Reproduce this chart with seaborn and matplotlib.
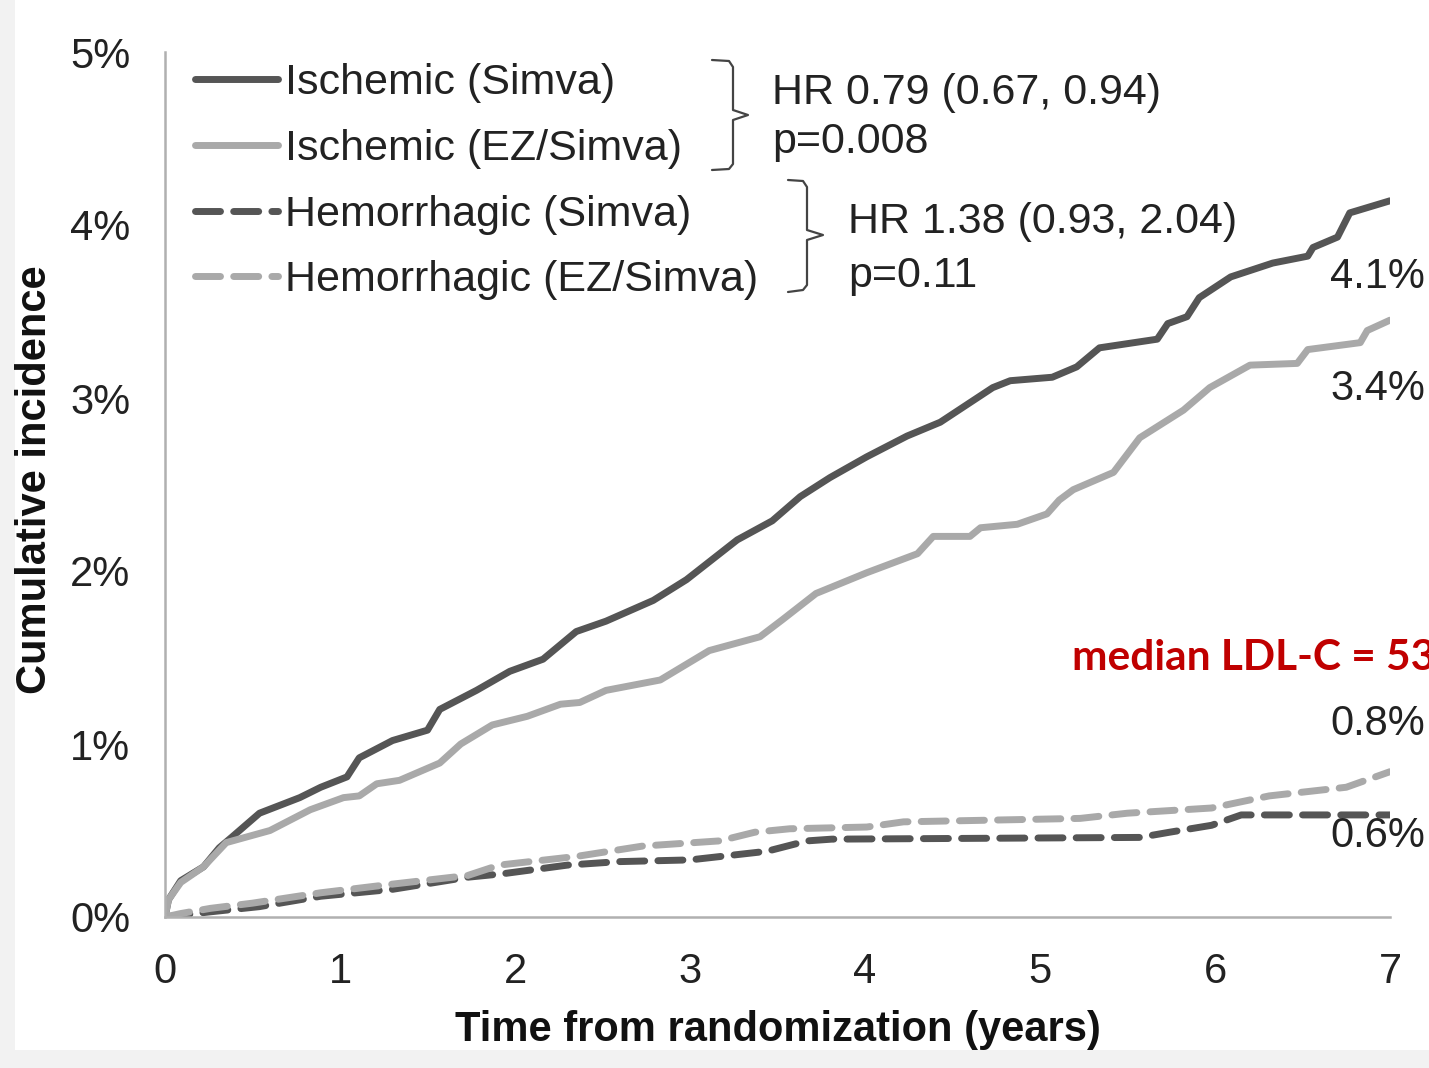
import matplotlib
matplotlib.use("Agg")
import matplotlib.pyplot as plt
import numpy as np
import pandas as pd
import seaborn as sns
from matplotlib.patches import Rectangle
from matplotlib.lines import Line2D

# ---------------- data ----------------
series_names = ["Ischemic (Simva)", "Ischemic (EZ/Simva)",
                "Hemorrhagic (Simva)", "Hemorrhagic (EZ/Simva)"]

isc_simva_t = [0, 0.02, 0.09, 0.22, 0.31, 0.38, 0.54, 0.77, 0.89, 1.04, 1.11, 1.30, 1.50,
               1.57, 1.78, 1.97, 2.16, 2.35, 2.52, 2.79, 2.98, 3.27, 3.47, 3.63, 3.80,
               4.01, 4.24, 4.43, 4.73, 4.83, 5.07, 5.21, 5.34, 5.67, 5.73, 5.84, 5.91,
               6.09, 6.33, 6.53, 6.56, 6.70, 6.77, 7.0]
isc_simva_v = [0, 0.10, 0.21, 0.29, 0.40, 0.46, 0.60, 0.69, 0.75, 0.81, 0.92, 1.02, 1.08,
               1.20, 1.31, 1.42, 1.49, 1.65, 1.71, 1.83, 1.95, 2.18, 2.29, 2.43, 2.54,
               2.66, 2.78, 2.86, 3.06, 3.10, 3.12, 3.18, 3.29, 3.34, 3.43, 3.47, 3.58,
               3.70, 3.78, 3.82, 3.87, 3.93, 4.07, 4.14]

isc_ez_t = [0, 0.02, 0.09, 0.22, 0.35, 0.60, 0.83, 1.02, 1.11, 1.21, 1.34, 1.57, 1.69,
            1.87, 2.07, 2.26, 2.37, 2.52, 2.83, 3.11, 3.40, 3.53, 3.72, 4.01, 4.30, 4.39,
            4.60, 4.66, 4.87, 5.04, 5.11, 5.19, 5.42, 5.57, 5.82, 5.97, 6.20, 6.47, 6.53,
            6.83, 6.87, 7.0]
isc_ez_v = [0, 0.10, 0.20, 0.29, 0.43, 0.50, 0.62, 0.69, 0.70, 0.77, 0.79, 0.89, 1.00,
            1.11, 1.16, 1.23, 1.24, 1.31, 1.37, 1.54, 1.62, 1.72, 1.87, 1.99, 2.10, 2.20,
            2.20, 2.25, 2.27, 2.33, 2.41, 2.47, 2.57, 2.77, 2.93, 3.06, 3.19, 3.20, 3.28,
            3.32, 3.39, 3.45]

hem_simva_t = [0, 0.26, 0.54, 0.89, 1.30, 1.73, 1.93, 2.30, 2.59, 3.00, 3.44, 3.67, 3.81,
               5.57, 5.74, 5.98, 6.15, 7.0]
hem_simva_v = [0, 0.03, 0.06, 0.12, 0.16, 0.23, 0.25, 0.30, 0.32, 0.33, 0.38, 0.44, 0.45,
               0.46, 0.49, 0.53, 0.59, 0.59]

hem_ez_t = [0, 0.09, 0.26, 0.50, 0.89, 1.30, 1.73, 1.91, 2.35, 2.73, 3.17, 3.37, 3.57,
            4.01, 4.22, 5.23, 5.50, 5.98, 6.31, 6.75, 7.0]
hem_ez_v = [0, 0.02, 0.05, 0.08, 0.14, 0.19, 0.24, 0.30, 0.35, 0.41, 0.44, 0.49, 0.51,
            0.52, 0.55, 0.57, 0.60, 0.63, 0.70, 0.75, 0.84]

x_ticks = [0, 1, 2, 3, 4, 5, 6, 7]
x_tick_labels = ["0", "1", "2", "3", "4", "5", "6", "7"]
y_ticks = [0, 1, 2, 3, 4, 5]
y_tick_labels = ["0%", "1%", "2%", "3%", "4%", "5%"]

end_labels = ["4.1%", "3.4%", "0.8%", "0.6%"]
hr_texts = ["HR 0.79 (0.67, 0.94)", "p=0.008", "HR 1.38 (0.93, 2.04)", "p=0.11"]
red_note = "median LDL-C = 53"
x_label = "Time from randomization (years)"
y_label = "Cumulative incidence"

# ---------------- build frame ----------------
frames = []
for name, t, v in zip(series_names,
                      [isc_simva_t, isc_ez_t, hem_simva_t, hem_ez_t],
                      [isc_simva_v, isc_ez_v, hem_simva_v, hem_ez_v]):
    frames.append(pd.DataFrame({"t": t, "v": v, "series": name}))
df = pd.concat(frames, ignore_index=True)

W, H = 1429, 1068
DARK = "#555555"
LIGHT = "#a9a9a9"

sns.set_style("white")
plt.rcParams["font.family"] = ["Liberation Sans", "DejaVu Sans"]

fig = plt.figure(figsize=(W / 100, H / 100), dpi=100, facecolor="#f2f2f2")
fig.add_artist(Rectangle((15 / W, 18 / H), 1, 1, transform=fig.transFigure,
                         facecolor="white", edgecolor="none", zorder=-10))


def px(x, y):
    return (x / W, 1 - y / H)


ax = fig.add_axes([165 / W, 1 - 917 / H, 1225 / W, 865 / H])
ax.patch.set_alpha(0)

palette = {series_names[0]: DARK, series_names[1]: LIGHT,
           series_names[2]: DARK, series_names[3]: LIGHT}
dashes = {series_names[0]: "", series_names[1]: "",
          series_names[2]: (3.6, 1.9), series_names[3]: (3.6, 1.9)}

sns.lineplot(data=df, x="t", y="v", hue="series", style="series",
             hue_order=series_names, style_order=series_names,
             palette=palette, dashes=dashes, linewidth=5,
             estimator=None, sort=False, ax=ax, legend=True)

for ln in ax.lines:
    ln.set_dash_capstyle("round")
    ln.set_solid_capstyle("round")
    ln.set_solid_joinstyle("round")

ax.set_xlim(0, 7)
ax.set_ylim(0, 5)
ax.set_xticks(x_ticks)
ax.set_xticklabels(x_tick_labels)
ax.set_yticks(y_ticks)
ax.set_yticklabels(y_tick_labels)

sns.despine(ax=ax)
for s in ["left", "bottom"]:
    ax.spines[s].set_color("#b0b0b0")
    ax.spines[s].set_linewidth(1.8)

ax.tick_params(axis="both", direction="out", length=8, width=1.5, color="#b0b0b0",
               labelsize=30, labelcolor="#222222")
ax.tick_params(axis="x", pad=17)
ax.tick_params(axis="y", pad=17)

ax.set_xlabel(x_label, fontsize=30, fontweight="bold", color="#111111")
ax.set_ylabel(y_label, fontsize=30, fontweight="bold", color="#111111")
ax.xaxis.set_label_coords((778 - 165) / 1225, (917 - 1010) / 865)
ax.yaxis.set_label_coords((55 - 165) / 1225, (917 - 480) / 865)

# legend
handles, labels = ax.get_legend_handles_labels()
leg = ax.legend(handles, labels, loc="upper left",
                bbox_to_anchor=px(195, 63), bbox_transform=fig.transFigure,
                frameon=False, fontsize=31, handlelength=1.93, handletextpad=0.16,
                labelspacing=0.6, borderpad=0, borderaxespad=0)
for h in leg.legend_handles:
    h.set_linewidth(5)
    h.set_dash_capstyle("round")
    h.set_solid_capstyle("round")
for t in leg.get_texts():
    t.set_color("#222222")

# brackets
br1 = [(712, 60), (729, 61), (733, 67), (733, 110), (748, 115), (733, 120),
       (733, 164), (729, 169), (712, 170)]
br2 = [(788, 180), (803, 181), (807, 187), (807, 230), (823, 235), (807, 240),
       (807, 285), (803, 290), (788, 292)]
for br in (br1, br2):
    xs = [p[0] / W for p in br]
    ys = [1 - p[1] / H for p in br]
    fig.add_artist(Line2D(xs, ys, transform=fig.transFigure, color="#444444", lw=1.6))

# HR texts
hr_pos = [(772, 104), (772, 153), (848, 233), (848, 287)]
for txt, (x, y) in zip(hr_texts, hr_pos):
    fig.text(*px(x, y), txt, fontsize=31, color="#222222", ha="left", va="baseline")

# end labels
end_pos = [(1330, 288), (1330, 400), (1330, 735), (1330, 847)]
for txt, (x, y) in zip(end_labels, end_pos):
    fig.text(*px(x, y), txt, fontsize=30, color="#222222", ha="left", va="baseline")

# red note (cut off at the right edge, as in the source)
fig.text(*px(1072, 670), red_note, fontsize=30.5, fontweight="bold",
         color="#c00000", ha="left", va="baseline", family=["Lato", "DejaVu Sans"])

fig.savefig("out.png", dpi=100, facecolor=fig.get_facecolor())
